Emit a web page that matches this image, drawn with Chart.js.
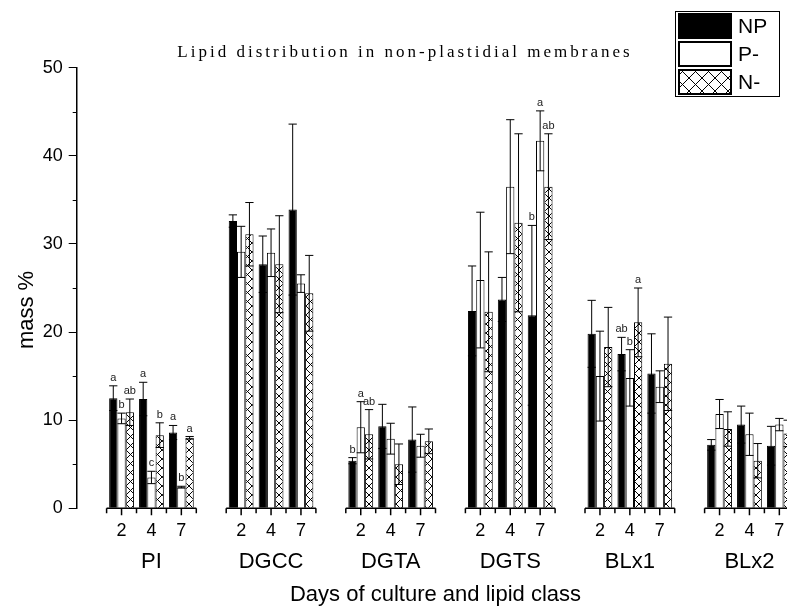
<!DOCTYPE html>
<html>
<head>
<meta charset="utf-8">
<title>Lipid distribution in non-plastidial membranes</title>
<script src="https://cdn.jsdelivr.net/npm/chart.js@4.4.1/dist/chart.umd.min.js"></script>
<style>
  html, body { margin: 0; padding: 0; background: #fff; overflow: hidden; }
  canvas { display: block; }
</style>
</head>
<body>
<canvas id="lipidChart" width="800" height="608"></canvas>
<script>
/* =============================================
   Lipid distribution — grouped bars with SD
   ============================================= */

// ── Data ────────────────────────────────────
const lipidClasses = ['PI', 'DGCC', 'DGTA', 'DGTS', 'BLx1', 'BLx2'];
const days = ['2', '4', '7'];
const seriesNames = ['NP', 'P-', 'N-'];

// mass % per class x day (2, 4, 7)
const npMean = [12.5, 12.4, 8.6,  32.6, 27.7, 33.9,  5.4, 9.3, 7.8,  22.4, 23.7, 21.9,  19.8, 17.5, 15.3,  7.2, 9.5, 7.1];
const npErr  = [1.4, 1.9, 0.8,    0.7, 3.2, 9.7,     0.35, 2.5, 3.7, 5.1, 2.5, 10.2,   3.8, 1.9, 4.5,     0.6, 2.1, 2.2];
const pMean  = [10.2, 3.5, 2.4,   29.1, 29.0, 25.5,  9.2, 7.9, 7.1,  25.9, 36.5, 41.7,  15.0, 14.8, 13.8,  10.7, 8.4, 9.5];
const pErr   = [0.6, 0.7, 0.1,    2.9, 2.7, 1.0,     2.9, 1.75, 1.3, 7.7, 7.6, 3.4,     5.1, 3.2, 1.8,     1.65, 2.4, 0.7];
const nMean  = [10.9, 8.3, 8.0,   31.1, 27.7, 24.4,  8.4, 5.0, 7.6,  22.3, 32.4, 36.5,  18.3, 21.1, 16.4,  9.0, 5.4, 8.5];
const nErr   = [1.5, 1.4, 0.15,   3.6, 5.5, 4.3,     2.8, 2.3, 1.4,  6.8, 10.1, 6.0,    4.5, 3.9, 5.3,     1.95, 1.95, 1.5];

// significance letters
const npMarks = ['a', 'a', 'a',   '', '', '',  'b', '', '',   '', '', 'b',   '', 'ab', '',  '', '', ''];
const pMarks  = ['b', 'c', 'b',   '', '', '',  'a', '', '',   '', '', 'a',   '', 'b', '',   '', '', ''];
const nMarks  = ['ab', 'b', 'a',  '', '', '',  'ab', '', '',  '', '', 'ab',  '', 'a', '',   '', '', ''];

// ── Category layout: one empty slot before each class ──
const labels = [];
const slot = [];
lipidClasses.forEach((cls, g) => {
  labels.push('');
  slot.push(-1);
  days.forEach((d, k) => { labels.push(d); slot.push(g * 3 + k); });
});
const spread = arr => slot.map(i => (i < 0 ? null : arr[i]));

const SANS = "'Liberation Sans', Arial, Helvetica, sans-serif";
const SERIF = "'Liberation Serif', 'Times New Roman', serif";

// ── Cross hatch fill ────────────────────────
const canvas = document.getElementById('lipidChart');
function makeHatch(size) {
  const tile = document.createElement('canvas');
  tile.width = size; tile.height = size;
  const g = tile.getContext('2d');
  g.fillStyle = '#fff';
  g.fillRect(0, 0, size, size);
  g.strokeStyle = '#000';
  g.lineWidth = 1;
  g.beginPath();
  g.moveTo(0, 0); g.lineTo(size, size);
  g.moveTo(size, 0); g.lineTo(0, size);
  g.stroke();
  return canvas.getContext('2d').createPattern(tile, 'repeat');
}
const hatch = makeHatch(9);
const legendHatch = makeHatch(13);

// ── Extras: error bars, letters, split x axis, titles, legend ──
const decor = {
  id: 'decor',
  afterDatasetsDraw(chart) {
    const { ctx } = chart;
    const ys = chart.scales.y;
    ctx.save();
    ctx.strokeStyle = '#000';
    ctx.lineWidth = 1;
    ctx.fillStyle = '#222';
    ctx.font = '11px ' + SANS;
    ctx.textAlign = 'center';
    ctx.textBaseline = 'middle';
    chart.data.datasets.forEach((ds, di) => {
      const meta = chart.getDatasetMeta(di);
      meta.data.forEach((bar, i) => {
        const v = ds.data[i];
        if (v == null) return;
        const e = ds.errors[i];
        const hw = bar.width / 2;
        const yt = ys.getPixelForValue(v + e);
        const yb = ys.getPixelForValue(Math.max(v - e, 0));
        ctx.beginPath();
        ctx.moveTo(bar.x, yt); ctx.lineTo(bar.x, yb);
        ctx.moveTo(bar.x - hw, yt); ctx.lineTo(bar.x + hw, yt);
        ctx.moveTo(bar.x - hw, yb); ctx.lineTo(bar.x + hw, yb);
        ctx.stroke();
        if (ds.marks[i]) ctx.fillText(ds.marks[i], bar.x, yt - 8);
      });
    });
    ctx.restore();
  },
  afterDraw(chart) {
    const { ctx, chartArea } = chart;
    const xs = chart.scales.x;
    const ys = chart.scales.y;
    const base = chartArea.bottom;
    const half = (xs.getPixelForValue(1) - xs.getPixelForValue(0)) / 2;

    ctx.save();
    ctx.strokeStyle = '#000';
    ctx.fillStyle = '#000';

    // y minor ticks
    ctx.lineWidth = 1;
    ctx.beginPath();
    for (let v = 5; v < 50; v += 10) {
      const py = Math.round(ys.getPixelForValue(v)) + 0.5;
      ctx.moveTo(chartArea.left - 4, py); ctx.lineTo(chartArea.left, py);
    }
    ctx.stroke();

    // x axis, one segment per lipid class
    ctx.lineWidth = 1.5;
    ctx.textAlign = 'center';
    ctx.textBaseline = 'alphabetic';
    ctx.font = '22px ' + SANS;
    lipidClasses.forEach((cls, g) => {
      const first = g * 4 + 1, last = g * 4 + 3;
      const x0 = xs.getPixelForValue(first) - half;
      const x1 = xs.getPixelForValue(last) + half;
      ctx.beginPath();
      ctx.moveTo(x0, base); ctx.lineTo(x1, base);
      for (let i = first; i <= last; i++) {
        const cx = xs.getPixelForValue(i);
        ctx.moveTo(cx, base); ctx.lineTo(cx, base + 7);
        ctx.moveTo(cx - half, base); ctx.lineTo(cx - half, base + 5);
      }
      ctx.moveTo(x1, base); ctx.lineTo(x1, base + 5);
      ctx.stroke();
      ctx.fillText(cls, xs.getPixelForValue(first + 1), base + 60);
    });

    // axis titles
    ctx.font = '22px ' + SANS;
    ctx.fillText('Days of culture and lipid class', (chartArea.left + chartArea.right) / 2, 601);
    ctx.save();
    ctx.translate(33, 310);
    ctx.rotate(-Math.PI / 2);
    ctx.fillText('mass %', 0, 0);
    ctx.restore();

    // chart title
    ctx.font = '17px ' + SERIF;
    ctx.letterSpacing = '3px';
    ctx.fillText('Lipid distribution in non-plastidial membranes', 405, 57);
    ctx.letterSpacing = '0px';

    // legend box
    const swatches = ['#000', '#fff', legendHatch];
    ctx.lineWidth = 1;
    ctx.strokeRect(675.5, 11.5, 104, 85);
    ctx.font = '21px ' + SANS;
    ctx.textAlign = 'left';
    ctx.textBaseline = 'middle';
    chart.data.datasets.forEach((ds, i) => {
      const sy = 13 + i * 28;
      ctx.fillStyle = swatches[i];
      ctx.fillRect(678, sy, 54, 26);
      ctx.lineWidth = 2;
      ctx.strokeRect(679, sy + 1, 52, 24);
      ctx.fillStyle = '#000';
      ctx.fillText(ds.label, 738, sy + 14);
    });
    ctx.restore();
  }
};

// ── Chart ───────────────────────────────────
const fills = ['#000', '#fff', hatch];
const means = [npMean, pMean, nMean];
const errs = [npErr, pErr, nErr];
const marks = [npMarks, pMarks, nMarks];

new Chart(canvas, {
  type: 'bar',
  data: {
    labels: labels,
    datasets: seriesNames.map((name, s) => ({
      label: name,
      data: spread(means[s]),
      errors: spread(errs[s]),
      marks: spread(marks[s]),
      backgroundColor: fills[s],
      borderColor: '#000',
      borderWidth: 1,
      barPercentage: 1,
      categoryPercentage: 0.83,
    }))
  },
  options: {
    responsive: false,
    animation: false,
    layout: { padding: { top: 67.7, right: 5.7, left: 0, bottom: 0 } },
    plugins: {
      legend: { display: false },
      title: { display: false },
      tooltip: { enabled: false }
    },
    scales: {
      x: {
        grid: { display: false, drawTicks: false },
        border: { display: false },
        ticks: {
          color: '#000',
          font: { size: 18, family: SANS },
          padding: 12,
          maxRotation: 0,
          autoSkip: false
        },
        afterFit: s => { s.height = 99.7; }
      },
      y: {
        min: 0,
        max: 50,
        ticks: {
          stepSize: 10,
          color: '#000',
          font: { size: 18, family: SANS },
          padding: 6
        },
        grid: { drawOnChartArea: false, tickLength: 8, color: '#000', tickColor: '#000', tickWidth: 1 },
        border: { color: '#000', width: 1.5 },
        afterFit: s => { s.width = 76.7; }
      }
    }
  },
  plugins: [decor]
});
</script>
</body>
</html>
